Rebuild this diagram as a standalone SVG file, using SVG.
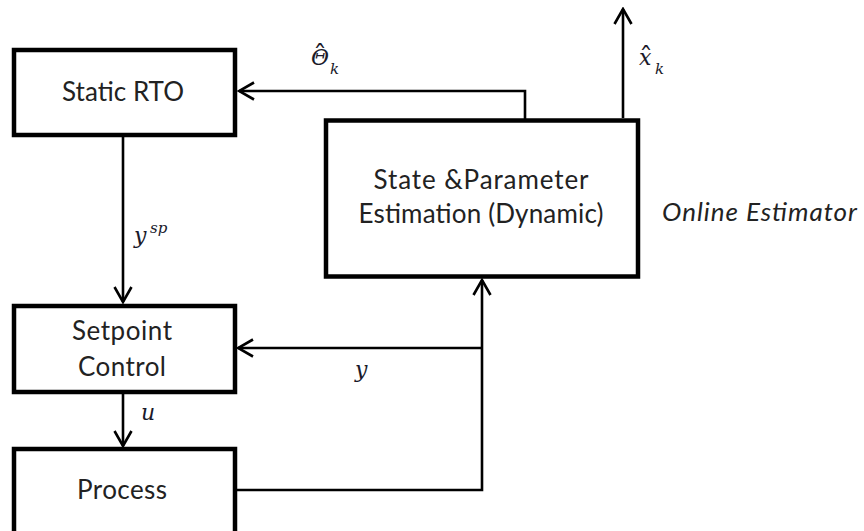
<svg xmlns="http://www.w3.org/2000/svg" width="864" height="531" viewBox="0 0 864 531">
<style>
.box{fill:#fff;stroke:#000;stroke-width:4.5}
.lbl{font-family:Lato,"Open Sans","Liberation Sans",sans-serif;font-size:26px;fill:#222;text-anchor:middle}
.it{font-family:Lato,"Open Sans","Liberation Sans",sans-serif;font-size:26px;font-style:italic;fill:#222}
.m{font-family:"DejaVu Serif","Liberation Serif",serif;font-style:italic;fill:#1a1a2a;font-size:22px}
.hat{font-style:normal;font-size:28px}
.sub{font-size:15px}
.c{fill:none;stroke:#000;stroke-width:2.6}
</style>
<defs>
<marker id="arr" viewBox="0 0 20 20" markerWidth="20" markerHeight="20" refX="18" refY="10" orient="auto" markerUnits="userSpaceOnUse">
<path d="M3,1.5 L18,10 L3,18.5" fill="none" stroke="#000" stroke-width="2.6"/>
</marker>
</defs>
<rect width="864" height="531" fill="#fff"/>
<g id="connectors">
<path class="c" d="M525,120 V91 H239" marker-end="url(#arr)"/>
<path class="c" d="M623,118 V9" marker-end="url(#arr)"/>
<path class="c" d="M123,137 V302" marker-end="url(#arr)"/>
<path class="c" d="M237,490 H482 V280" marker-end="url(#arr)"/>
<path class="c" d="M482,348 H238" marker-end="url(#arr)"/>
<path class="c" d="M123,394 V446" marker-end="url(#arr)"/>
</g>
<g id="static-rto">
<rect class="box" x="14" y="50" width="221" height="85"/>
<text class="lbl" x="123" y="101" textLength="122">Static RTO</text>
</g>
<g id="estimator">
<rect class="box" x="326" y="120.5" width="312" height="156"/>
<text class="lbl" x="481" y="189" textLength="215">State &amp;Parameter</text>
<text class="lbl" x="481" y="223" textLength="245">Estimation (Dynamic)</text>
</g>
<g id="setpoint-control">
<rect class="box" x="14" y="306" width="221" height="86"/>
<text class="lbl" x="122" y="340" textLength="100">Setpoint</text>
<text class="lbl" x="122" y="376" textLength="88">Control</text>
</g>
<g id="process">
<rect class="box" x="14" y="449" width="221" height="100"/>
<text class="lbl" x="122" y="499" textLength="90">Process</text>
</g>
<g id="online-estimator">
<text class="it" x="662" y="221" textLength="195">Online Estimator</text>
</g>
<g id="labels">
<text class="m" x="311" y="65">Θ<tspan class="hat" x="313" y="65">ˆ</tspan><tspan class="sub" x="330" y="74">k</tspan></text>
<text class="m" x="639" y="65">x<tspan class="hat" x="639" y="67">ˆ</tspan><tspan class="sub" x="655" y="74">k</tspan></text>
<text class="m" x="134" y="243">y<tspan class="sub" x="150" y="233">sp</tspan></text>
<text class="m" x="355" y="377">y</text>
<text class="m" x="141" y="420">u</text>
</g>
</svg>
